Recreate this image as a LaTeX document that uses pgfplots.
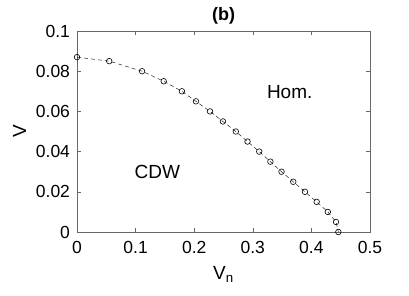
\documentclass[border=0pt]{standalone}
\usepackage{fontspec}
\setmainfont{Liberation Sans}
\usepackage{pgfplots}
\pgfplotsset{compat=1.18}
\definecolor{axgray}{RGB}{38,38,38}
\begin{document}
\fontsize{17.5bp}{20bp}\selectfont
\begin{tikzpicture}
\begin{axis}[
  scale only axis, width=293bp, height=201bp,
  xmin=0, xmax=0.5, ymin=0, ymax=0.1,
  xtick={0,0.1,0.2,0.3,0.4,0.5},
  ytick={0,0.02,0.04,0.06,0.08,0.1},
  xticklabels={0,0.1,0.2,0.3,0.4,0.5},
  yticklabels={0,0.02,0.04,0.06,0.08,0.1},
  tick align=inside, tick pos=both,
  major tick length=4bp,
  axis line style={draw=axgray!70, line width=0.5bp},
  tick style={draw=axgray!70, line width=0.5bp},
  /pgf/number format/assume math mode=true,
  ticklabel style={font=\fontsize{17.5bp}{20bp}\selectfont, text=black},
  xticklabel style={yshift=-3bp},
  yticklabel style={xshift=-1bp},
  xlabel={V\textsubscript{n}}, ylabel={V},
  label style={font=\fontsize{19bp}{21bp}\selectfont},
  title={\textbf{(b)}},
  title style={font=\fontsize{18bp}{20bp}\selectfont, yshift=-5bp},
  xlabel style={yshift=-1bp},
  ylabel style={yshift=-2bp},
]
\addplot[black, dash pattern=on 4bp off 3bp, line width=0.4bp,
  mark=o, mark size=2.8bp, mark options={solid, line width=0.6bp}] coordinates {
(0,0.087) (0.055,0.085) (0.111,0.080) (0.148,0.075) (0.179,0.070) (0.203,0.065)
(0.227,0.060) (0.249,0.055) (0.271,0.050) (0.291,0.045) (0.311,0.040) (0.330,0.035)
(0.349,0.030) (0.369,0.025) (0.389,0.020) (0.409,0.015) (0.428,0.010) (0.442,0.005)
(0.446,0.000)
};
\node[font=\fontsize{19bp}{21bp}\selectfont] at (axis cs:0.363,0.0697) {Hom.};
\node[font=\fontsize{19bp}{21bp}\selectfont] at (axis cs:0.137,0.030) {CDW};
\coordinate (bl) at (rel axis cs:0,0);
\coordinate (tr) at (rel axis cs:1,1);
\end{axis}
\pgfresetboundingbox
\path ([shift={(-77bp,-64bp)}]bl) rectangle ([shift={(39bp,31bp)}]tr);
\end{tikzpicture}
\end{document}
